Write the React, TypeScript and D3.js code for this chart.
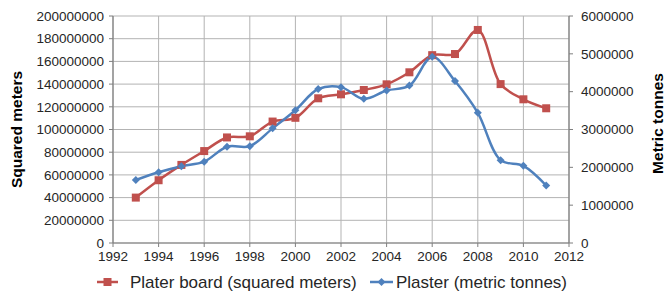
import React from "react";
import * as d3 from "d3";

const years = [1993,1994,1995,1996,1997,1998,1999,2000,2001,2002,2003,2004,2005,2006,2007,2008,2009,2010,2011];
const platerBoard = [40000000,55300000,68800000,81000000,93000000,94000000,107000000,110300000,127500000,131000000,134800000,139800000,150400000,165500000,166500000,187700000,140000000,126600000,118700000];
const plaster = [1665000,1870000,2030000,2150000,2545000,2560000,3030000,3510000,4070000,4120000,3810000,4030000,4160000,4920000,4280000,3440000,2190000,2040000,1520000];
const xTicks = [1992,1994,1996,1998,2000,2002,2004,2006,2008,2010,2012];
const leftTicks = [0,20000000,40000000,60000000,80000000,100000000,120000000,140000000,160000000,180000000,200000000];
const rightTicks = [0,1000000,2000000,3000000,4000000,5000000,6000000];
const leftTitle = "Squared meters";
const rightTitle = "Metric tonnes";
const seriesNames = ["Plater board (squared meters)", "Plaster (metric tonnes)"];

const W = 665, H = 293;
const L = 113, R = 569, T = 16, B = 243;
const RED = "#C0504D", BLUE = "#4F81BD";
const FONT = "'Liberation Sans', Arial, sans-serif";

export default function App() {
  const x = d3.scaleLinear().domain([1992, 2012]).range([L, R]);
  const yL = d3.scaleLinear().domain([0, 200000000]).range([B, T]);
  const yR = d3.scaleLinear().domain([0, 6000000]).range([B, T]);
  const curve = d3.curveCatmullRom.alpha(0.5);
  const redLine = d3.line<number>().x((_, i) => x(years[i])).y(d => yL(d)).curve(curve);
  const blueLine = d3.line<number>().x((_, i) => x(years[i])).y(d => yR(d)).curve(curve);
  const diamond = (cx: number, cy: number, r: number) =>
    `M${cx},${cy - r}L${cx + r},${cy}L${cx},${cy + r}L${cx - r},${cy}Z`;

  return (
    <svg width={W} height={H} style={{ position: "absolute", left: 0, top: 0, background: "#fff" }} fontFamily={FONT}>
      <rect width={W} height={H} fill="#fff" />
      {leftTicks.map(t => (
        <line key={"h" + t} x1={L} x2={R} y1={yL(t)} y2={yL(t)} stroke="#b3b3b3" strokeWidth={1} />
      ))}
      {xTicks.map(t => (
        <line key={"v" + t} x1={x(t)} x2={x(t)} y1={T} y2={B} stroke="#b3b3b3" strokeWidth={1} />
      ))}
      <line x1={L} x2={L} y1={T} y2={B} stroke="#7f7f7f" strokeWidth={1.2} />
      <line x1={R} x2={R} y1={T} y2={B} stroke="#7f7f7f" strokeWidth={1.2} />
      <line x1={L} x2={R} y1={B} y2={B} stroke="#7f7f7f" strokeWidth={1.2} />
      {leftTicks.map(t => (
        <g key={"lt" + t}>
          <line x1={L - 4} x2={L} y1={yL(t)} y2={yL(t)} stroke="#7f7f7f" />
          <text x={L - 9} y={yL(t)} dy="0.35em" textAnchor="end" fontSize={13.5} fill="#262626">{t}</text>
        </g>
      ))}
      {rightTicks.map(t => (
        <g key={"rt" + t}>
          <line x1={R} x2={R + 4} y1={yR(t)} y2={yR(t)} stroke="#7f7f7f" />
          <text x={R + 12} y={yR(t)} dy="0.35em" textAnchor="start" fontSize={13.5} fill="#262626">{t}</text>
        </g>
      ))}
      {xTicks.map(t => (
        <g key={"xt" + t}>
          <line x1={x(t)} x2={x(t)} y1={B} y2={B + 4} stroke="#7f7f7f" />
          <text x={x(t)} y={B + 18} textAnchor="middle" fontSize={13.5} fill="#262626">{t}</text>
        </g>
      ))}
      <text transform={`translate(22,${(T + B) / 2}) rotate(-90)`} textAnchor="middle" fontSize={15.5} fontWeight="bold" fill="#000">{leftTitle}</text>
      <text transform={`translate(663,${(T + B) / 2 - 6}) rotate(-90)`} textAnchor="middle" fontSize={15.5} fontWeight="bold" fill="#000">{rightTitle}</text>

      <path d={redLine(platerBoard) || ""} fill="none" stroke={RED} strokeWidth={2.5} />
      <path d={blueLine(plaster) || ""} fill="none" stroke={BLUE} strokeWidth={2.5} />
      {platerBoard.map((v, i) => (
        <rect key={"rm" + i} x={x(years[i]) - 4} y={yL(v) - 4} width={8} height={8} fill={RED} />
      ))}
      {plaster.map((v, i) => (
        <path key={"bm" + i} d={diamond(x(years[i]), yR(v), 4)} fill={BLUE} />
      ))}

      <g>
        <line x1={97} x2={118} y1={282} y2={282} stroke={RED} strokeWidth={2.5} />
        <rect x={103.5} y={278} width={8} height={8} fill={RED} />
        <text x={130} y={282} dy="0.35em" fontSize={17} fill="#262626">{seriesNames[0]}</text>
        <line x1={370} x2={393} y1={282} y2={282} stroke={BLUE} strokeWidth={2.5} />
        <path d={diamond(381.5, 282, 4)} fill={BLUE} />
        <text x={396} y={282} dy="0.35em" fontSize={17} fill="#262626">{seriesNames[1]}</text>
      </g>
    </svg>
  );
}
